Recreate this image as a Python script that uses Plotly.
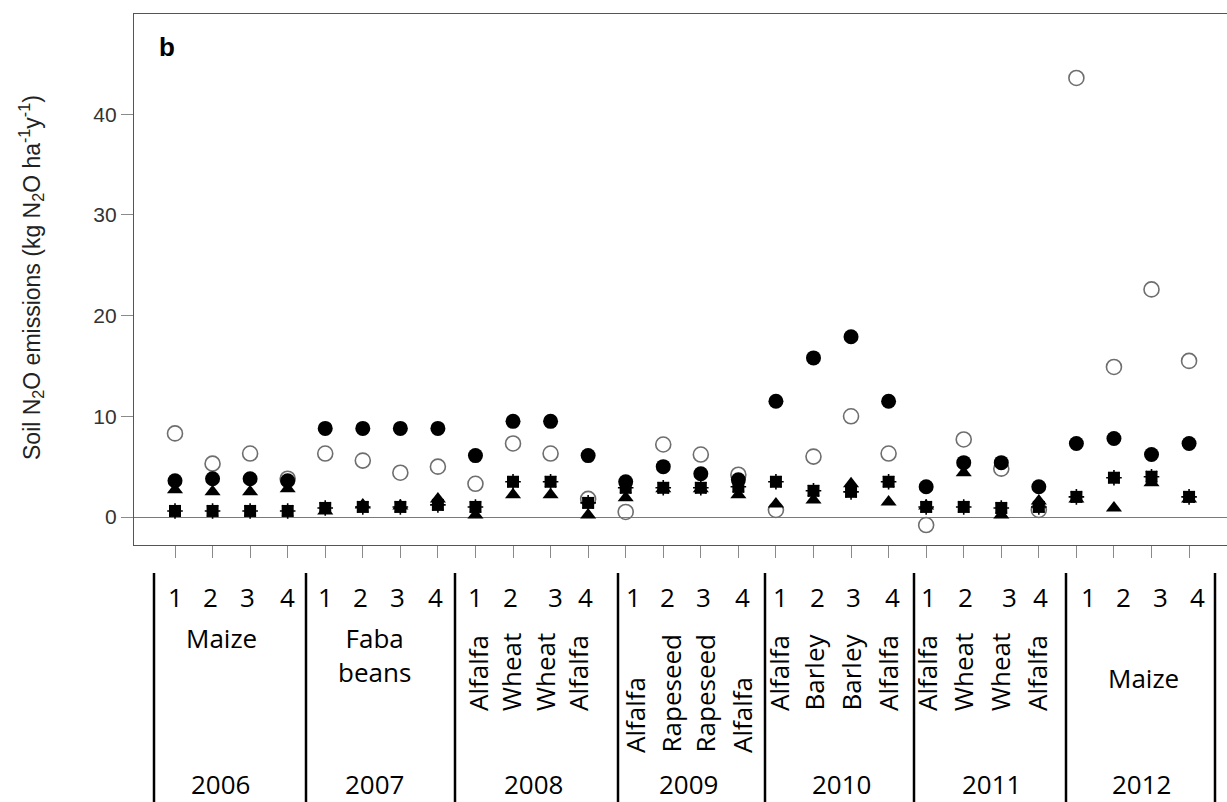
import plotly.graph_objects as go

# Soil N2O emissions per plot (kg N2O ha-1 y-1), 4 plots x 7 years
years = ["2006", "2007", "2008", "2009", "2010", "2011", "2012"]
plots = ["1", "2", "3", "4"]
position = list(range(1, 29))

open_circle = [8.3, 5.3, 6.3, 3.8,
               6.3, 5.6, 4.4, 5.0,
               3.3, 7.3, 6.3, 1.8,
               0.5, 7.2, 6.2, 4.2,
               0.7, 6.0, 10.0, 6.3,
               -0.8, 7.7, 4.8, 0.7,
               43.6, 14.9, 22.6, 15.5]
filled_circle = [3.6, 3.8, 3.8, 3.6,
                 8.8, 8.8, 8.8, 8.8,
                 6.1, 9.5, 9.5, 6.1,
                 3.5, 5.0, 4.3, 3.7,
                 11.5, 15.8, 17.9, 11.5,
                 3.0, 5.4, 5.4, 3.0,
                 7.3, 7.8, 6.2, 7.3]
triangle = [2.7, 2.5, 2.5, 2.8,
            0.6, 1.2, 1.1, 1.8,
            0.2, 2.2, 2.2, 0.2,
            1.9, 2.8, 2.8, 2.2,
            1.3, 1.7, 3.3, 1.5,
            1.1, 4.4, 0.2, 1.6,
            1.8, 0.9, 3.4, 1.8]
square_star = [0.6, 0.6, 0.6, 0.6,
               0.9, 1.0, 1.0, 1.2,
               1.0, 3.5, 3.5, 1.4,
               2.9, 2.9, 2.9, 3.0,
               3.5, 2.6, 2.5, 3.5,
               1.0, 1.0, 0.9, 1.0,
               2.0, 3.9, 4.0, 2.0]

crops = [
    ["Maize"],
    ["Faba<br>beans"],
    ["Alfalfa", "Wheat", "Wheat", "Alfalfa"],
    ["Alfalfa", "Rapeseed", "Rapeseed", "Alfalfa"],
    ["Alfalfa", "Barley", "Barley", "Alfalfa"],
    ["Alfalfa", "Wheat", "Wheat", "Alfalfa"],
    ["Maize"],
]

W, H = 1227, 802
L, T, B = 134, 14, 257
PW, PH = W - L, H - T - B


def px(xp):
    return (xp - L) / PW


def py(yp):
    return (H - B - yp) / PH


fig = go.Figure()
fig.add_trace(go.Scatter(x=position, y=open_circle, mode="markers",
                         marker=dict(symbol="circle-open", size=15, color="#6e6e6e",
                                     line=dict(width=1.6, color="#6e6e6e"))))
fig.add_trace(go.Scatter(x=position, y=filled_circle, mode="markers",
                         marker=dict(symbol="circle", size=15, color="black")))
fig.add_trace(go.Scatter(x=position, y=triangle, mode="markers",
                         marker=dict(symbol="triangle-up", size=14, color="black")))
fig.add_trace(go.Scatter(x=position, y=square_star, mode="markers",
                         marker=dict(symbol="square", size=12, color="black")))
fig.add_trace(go.Scatter(x=position, y=square_star, mode="markers",
                         marker=dict(symbol="asterisk-open", size=13, color="black",
                                     line=dict(width=1.6, color="black"))))

annotations = []
# panel letter
annotations.append(dict(text="<b>b</b>", xref="paper", yref="paper", x=px(157), y=py(47),
                        xanchor="left", yanchor="middle", showarrow=False,
                        font=dict(family="Liberation Sans", size=26, color="black")))
# y-axis title
annotations.append(dict(text="Soil N<sub>2</sub>O emissions (kg N<sub>2</sub>O ha<sup>-1</sup>y<sup>-1</sup>)",
                        xref="paper", yref="paper", x=px(31), y=py(278), textangle=-90,
                        xanchor="center", yanchor="middle", showarrow=False,
                        font=dict(family="Liberation Sans", size=23, color="#222")))

tf = dict(family="Open Sans", size=26, color="black")

# plot numbers row
num_x = [[175, 210, 247, 287], [325, 360, 397, 435], [475, 510, 555, 585],
         [633, 667, 703, 742], [780, 817, 853, 892], [928, 965, 1009, 1040],
         [1088, 1123, 1160, 1197]]
for grp in num_x:
    for lab, xp in zip(plots, grp):
        annotations.append(dict(text=lab, xref="paper", yref="paper", x=px(xp), y=py(597),
                                xanchor="center", yanchor="middle", showarrow=False, font=tf))

# crop labels
annotations.append(dict(text=crops[0][0], xref="paper", yref="paper", x=px(221), y=py(638),
                        xanchor="center", yanchor="middle", showarrow=False, font=tf))
annotations.append(dict(text=crops[1][0], xref="paper", yref="paper", x=px(374), y=py(655),
                        xanchor="center", yanchor="middle", showarrow=False, font=tf))
annotations.append(dict(text=crops[6][0], xref="paper", yref="paper", x=px(1143), y=py(678),
                        xanchor="center", yanchor="middle", showarrow=False, font=tf))
rot_x = {2: [478, 511, 545, 578], 3: [635, 670, 704, 742],
         4: [779, 813, 850, 888], 5: [927, 963, 1000, 1037]}
rot_bottom = {2: 713, 3: 755, 4: 713, 5: 713}
for g, xs in rot_x.items():
    for lab, xp in zip(crops[g], xs):
        annotations.append(dict(text=lab, xref="paper", yref="paper", x=px(xp), y=py(rot_bottom[g]),
                                textangle=-90, xanchor="center", yanchor="bottom",
                                showarrow=False, font=tf))

# year row
year_x = [220, 374, 533, 688, 841, 991, 1141]
for yr, xp in zip(years, year_x):
    annotations.append(dict(text=yr, xref="paper", yref="paper", x=px(xp), y=py(784),
                            xanchor="center", yanchor="middle", showarrow=False, font=tf))

# table separators
shapes = []
for xp in [154, 306, 455, 618, 765, 914, 1066, 1215]:
    shapes.append(dict(type="line", xref="paper", yref="paper", x0=px(xp), x1=px(xp),
                       y0=py(573), y1=py(805), line=dict(color="black", width=2.5)))

fig.update_layout(
    width=W, height=H,
    margin=dict(l=L, r=0, t=T, b=B),
    paper_bgcolor="white", plot_bgcolor="white",
    showlegend=False,
    annotations=annotations,
    shapes=shapes,
    xaxis=dict(range=[-0.0916, 29.01], tickvals=position, showticklabels=False,
               ticks="outside", ticklen=12, tickwidth=1.3, tickcolor="#8a8a8a",
               showline=True, mirror=True, linecolor="#555", linewidth=1.3,
               showgrid=False, zeroline=False, fixedrange=True),
    yaxis=dict(range=[-2.78, 49.95], tickvals=[0, 10, 20, 30, 40],
               ticks="outside", ticklen=12, tickwidth=1.3, tickcolor="#8a8a8a",
               tickfont=dict(family="Liberation Sans", size=21, color="#333"),
               showline=True, mirror=False, linecolor="#555", linewidth=1.3,
               showgrid=False, zeroline=True, zerolinecolor="#7a7a7a", zerolinewidth=1.3,
               fixedrange=True),
)

fig.write_html("out.html")
